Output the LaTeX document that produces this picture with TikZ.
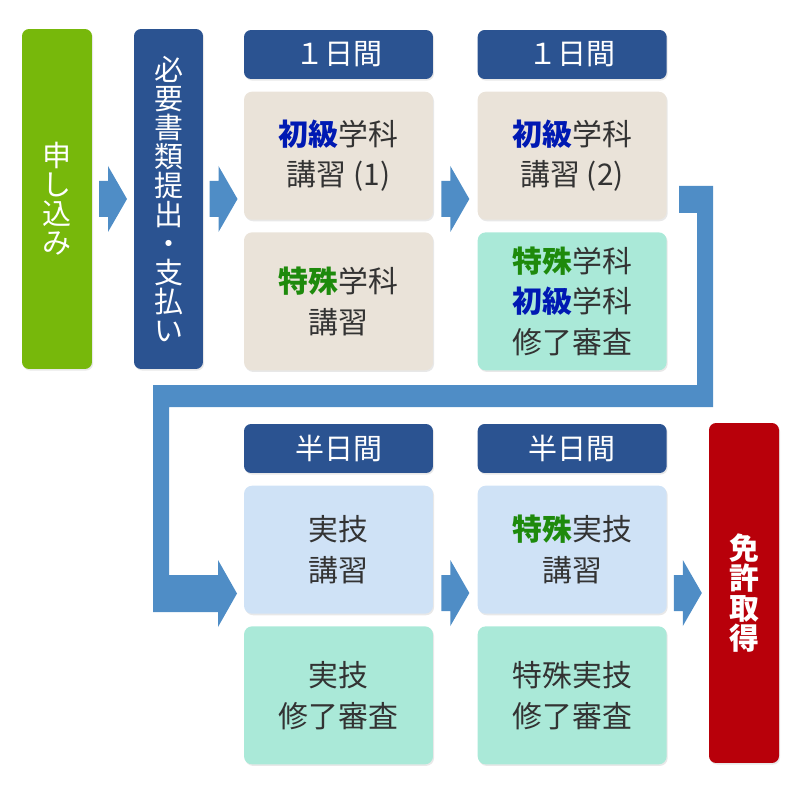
\documentclass[tikz,border=0pt]{standalone}
\usepackage{fontspec}
\setmainfont{Noto Sans CJK JP}
\usetikzlibrary{positioning,calc,shadows}
\definecolor{applygreen}{HTML}{77B80B}
\definecolor{hdblue}{HTML}{2B5391}
\definecolor{beige}{HTML}{EAE3D9}
\definecolor{mint}{HTML}{AAE9D8}
\definecolor{paleblue}{HTML}{CFE2F6}
\definecolor{licred}{HTML}{B8000A}
\definecolor{arrowblue}{HTML}{4F8DC6}
\definecolor{txtgray}{HTML}{333333}
\definecolor{kyublue}{HTML}{0019B3}
\definecolor{tokugreen}{HTML}{1E8A0C}

% block arrow between two steps
\newcommand{\flowarrow}[1]{%
  \fill[arrowblue, shift={(#1)}] (-14,-18) -- (-5,-18) -- (-5,-33) -- (14,0)
    -- (-5,33) -- (-5,18) -- (-14,18) -- cycle;}
\newcommand{\kyu}{\textcolor{kyublue}{\bfseries 初級}}
\newcommand{\toku}{\textcolor{tokugreen}{\bfseries 特殊}}

\begin{document}
\begin{tikzpicture}[x=0.02cm, y=-0.02cm,
    shade/.style={drop shadow={shadow xshift=0.6pt, shadow yshift=-0.9pt, opacity=0.18}},
    tallbox/.style={shade, rounded corners=0.14cm, minimum width=1.4cm,
                    minimum height=6.8cm, inner sep=0, text=white, align=center,
                    font=\fontsize{16.5}{16.5}\selectfont},
    headbox/.style={shade, fill=hdblue, rounded corners=0.14cm, minimum width=3.78cm,
                    minimum height=0.98cm, inner sep=0, text=white,
                    font=\fontsize{16.5}{20}\selectfont},
    stepbox/.style={shade, rounded corners=0.16cm, minimum width=3.78cm, inner sep=0,
                    text=txtgray, align=center, font=\fontsize{17}{23.3}\selectfont},
    gap/.style={node distance=0.24cm}
]
  \useasboundingbox (0,0) rectangle (800,800);

  % start and paperwork
  \node[tallbox, fill=applygreen] (apply) at (57,199) {申\\し\\込\\み};
  \node[tallbox, fill=hdblue, minimum width=1.38cm] (docs) at (168.5,199)
    {必\\要\\書\\類\\提\\出\\・\\支\\払\\い};

  % theory lessons
  \node[headbox] (h1) at (338.5,54.5) {１日間};
  \node[stepbox, fill=beige, minimum height=2.56cm, gap, below=of h1] (k1a)
    {\kyu 学科\\講習 (1)};
  \node[stepbox, fill=beige, minimum height=2.76cm, gap, below=of k1a] (k1b)
    {\toku 学科\\講習};
  \node[headbox, right=0.88cm of h1] (h2) {１日間};
  \node[stepbox, fill=beige, minimum height=2.56cm, gap, below=of h2] (k2a)
    {\kyu 学科\\講習 (2)};
  \node[stepbox, fill=mint, minimum height=2.76cm, gap, below=of k2a] (k2b)
    {\toku 学科\\\kyu 学科\\修了審査};

  % practical lessons
  \node[headbox] (h3) at (338.5,448.5) {半日間};
  \node[stepbox, fill=paleblue, minimum height=2.56cm, gap, below=of h3] (j1a)
    {実技\\講習};
  \node[stepbox, fill=mint, minimum height=2.76cm, gap, below=of j1a] (j1b)
    {実技\\修了審査};
  \node[headbox, right=0.88cm of h3] (h4) {半日間};
  \node[stepbox, fill=paleblue, minimum height=2.56cm, gap, below=of h4] (j2a)
    {\toku 実技\\講習};
  \node[stepbox, fill=mint, minimum height=2.76cm, gap, below=of j2a] (j2b)
    {特殊実技\\修了審査};

  % licence
  \node[tallbox, fill=licred, font=\fontsize{17}{17}\selectfont\bfseries] (lic)
    at (744,593) {免\\許\\取\\得};

  % arrows
  \coordinate (ar1) at ($(apply.east)!0.5!(docs.west)$);
  \coordinate (ar2) at ($(docs.east)!0.5!(k1a.west |- docs.east)$);
  \coordinate (ar3) at ($(k1a.east |- docs.east)!0.5!(k2a.west |- docs.east)$);
  \coordinate (ar4) at ($(j1a.east |- lic.west)!0.5!(j2a.west |- lic.west)$);
  \coordinate (ar5) at ($(j2a.east |- lic.west)!0.5!(lic.west)$);
  \foreach \a in {ar1,ar2,ar3,ar4,ar5} {\flowarrow{\a}}

  % return bend to second row
  \fill[arrowblue] (679,186) -- (713,186) -- (713,407) -- (169,407) -- (169,575)
    -- (218,575) -- (218,560) -- (237,593.5) -- (218,627) -- (218,612)
    -- (153,612) -- (153,385) -- (697,385) -- (697,213) -- (679,213) -- cycle;
\end{tikzpicture}
\end{document}
